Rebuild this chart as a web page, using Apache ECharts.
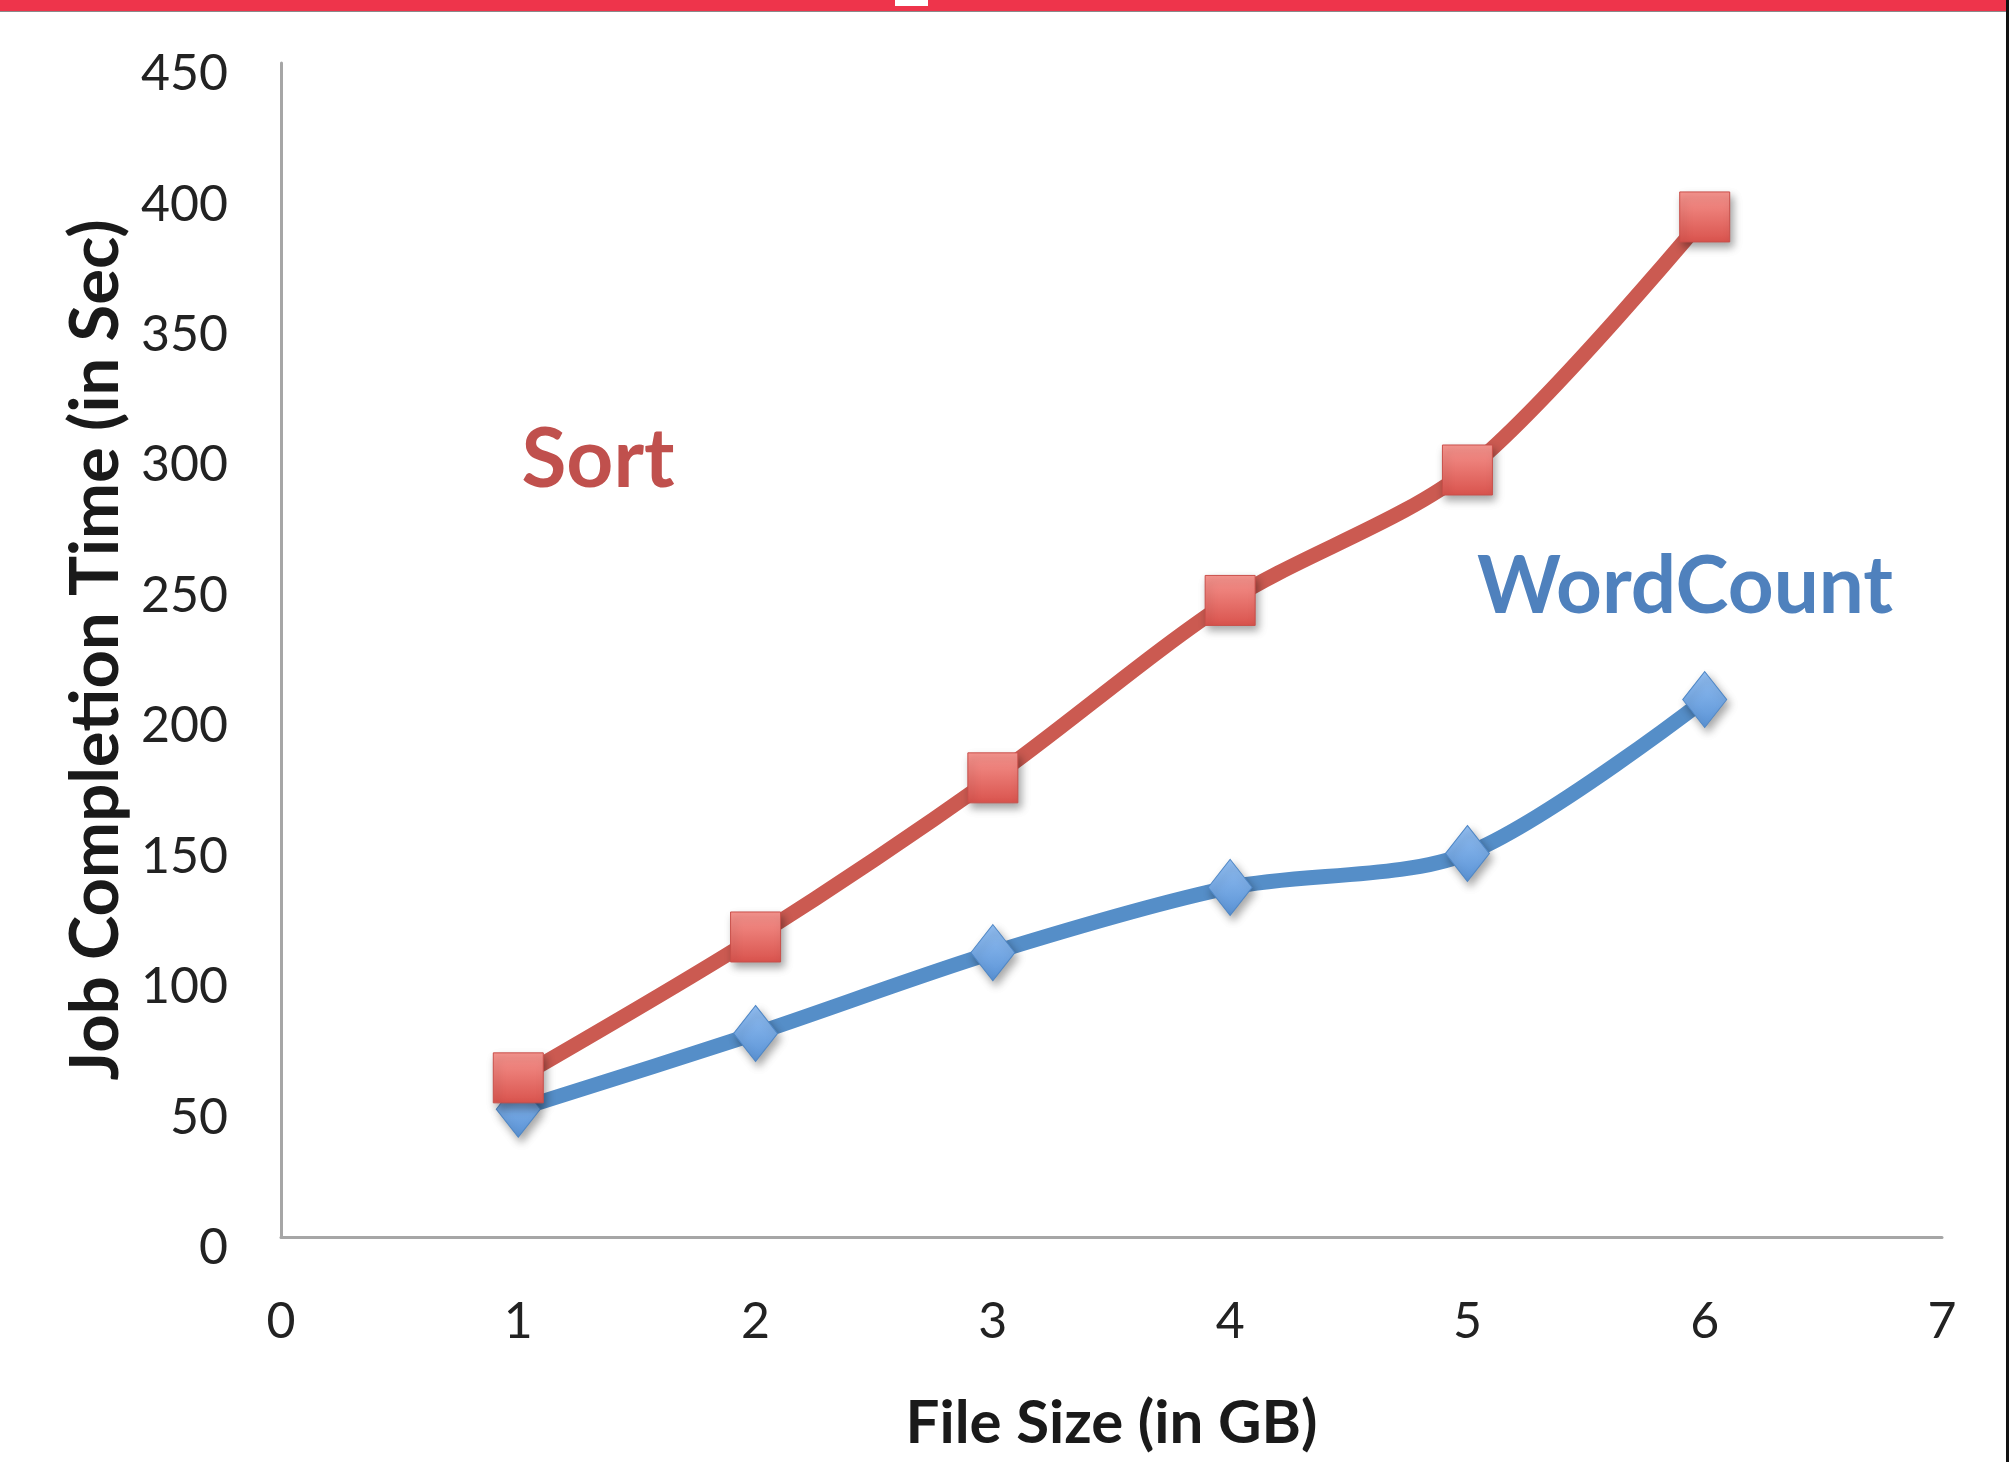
<!DOCTYPE html>
<html>
<head>
<meta charset="utf-8">
<script src="https://cdn.jsdelivr.net/npm/echarts@6/dist/echarts.min.js"></script>
<style>
  html, body { margin: 0; padding: 0; background: #fff; }
  #chart { width: 2012px; height: 1462px; }
</style>
</head>
<body>
<div id="chart"></div>
<script>
// file size in GB
const fileSizes = [1, 2, 3, 4, 5, 6];
// job completion time (sec)
const sortTimes = [61, 115, 176, 244, 294, 391];
const wordCountTimes = [49, 78, 109, 134, 147, 206];
const xTicks = [0, 1, 2, 3, 4, 5, 6, 7];
const yTicks = [0, 50, 100, 150, 200, 250, 300, 350, 400, 450];

const font = 'Lato, "Open Sans", "Noto Sans", sans-serif';

function pairs(xs, ys) {
  return xs.map((x, i) => [x, ys[i]]);
}

const chart = echarts.init(document.getElementById('chart'));

const markerShadow = {
  shadowBlur: 8,
  shadowColor: 'rgba(0, 0, 0, 0.35)',
  shadowOffsetX: 3,
  shadowOffsetY: 5,
};

const option = {
  backgroundColor: '#fff',
  animation: false,
  grid: {
    left: 281,
    right: 70,
    top: 63,
    bottom: 225,
  },
  xAxis: {
    type: 'value',
    min: xTicks[0],
    max: xTicks[xTicks.length - 1],
    interval: 1,
    name: 'File Size (in GB)',
    nameLocation: 'middle',
    nameGap: 157,
    nameTextStyle: {
      fontFamily: font,
      fontWeight: 'bold',
      fontSize: 60,
      color: '#1a1a1a',
    },
    axisLine: { lineStyle: { color: '#a6a6a6', width: 3 } },
    axisTick: { show: false },
    splitLine: { show: false },
    axisLabel: {
      fontFamily: font,
      fontSize: 50,
      color: '#222',
      margin: 60,
    },
  },
  yAxis: {
    type: 'value',
    min: yTicks[0],
    max: yTicks[yTicks.length - 1],
    interval: 50,
    name: 'Job Completion Time (in Sec)',
    nameLocation: 'middle',
    nameGap: 150,
    nameTextStyle: {
      fontFamily: font,
      fontWeight: 'bold',
      fontSize: 67,
      color: '#1a1a1a',
    },
    axisLine: { show: true, lineStyle: { color: '#a6a6a6', width: 3 } },
    axisTick: { show: false },
    splitLine: { show: false },
    axisLabel: {
      fontFamily: font,
      fontSize: 50,
      color: '#222',
      margin: 53,
      verticalAlign: 'top',
      lineHeight: 22,
    },
  },
  graphic: [
    // red strip across the top
    { type: 'rect', shape: { x: 0, y: 0, width: 2006, height: 11 }, style: { fill: '#ee344b' }, z: 100 },
    { type: 'rect', shape: { x: 0, y: 11, width: 2006, height: 1 }, style: { fill: '#8a8a8a' }, z: 100 },
    { type: 'rect', shape: { x: 895, y: 0, width: 33, height: 6 }, style: { fill: '#fff' }, z: 101 },
    // dark frame on the right
    { type: 'rect', shape: { x: 2006, y: 0, width: 3, height: 1462 }, style: { fill: '#111' }, z: 100 },
    {
      type: 'text',
      x: 598,
      y: 461,
      style: {
        text: 'Sort',
        fontFamily: font,
        fontWeight: 'bold',
        fontSize: 82,
        fill: '#c0504d',
        align: 'center',
        verticalAlign: 'middle',
      },
    },
    {
      type: 'text',
      x: 1685,
      y: 587,
      style: {
        text: 'WordCount',
        fontFamily: font,
        fontWeight: 'bold',
        fontSize: 80,
        fill: '#4f81bd',
        align: 'center',
        verticalAlign: 'middle',
      },
    },
  ],
  series: [
    {
      name: 'WordCount',
      type: 'line',
      data: pairs(fileSizes, wordCountTimes),
      smooth: 0.3,
      symbol: 'diamond',
      symbolSize: [44, 56],
      lineStyle: { color: '#558ec8', width: 15 },
      itemStyle: {
        color: new echarts.graphic.LinearGradient(0, 0, 0, 1, [
          { offset: 0, color: '#93bff2' },
          { offset: 1, color: '#5a93d6' },
        ]),
        borderColor: '#4f87c6',
        borderWidth: 1,
        ...markerShadow,
      },
      z: 2,
    },
    {
      name: 'Sort',
      type: 'line',
      data: pairs(fileSizes, sortTimes),
      smooth: 0.3,
      symbol: 'rect',
      symbolSize: 50,
      lineStyle: { color: '#cb5a51', width: 15 },
      itemStyle: {
        color: new echarts.graphic.LinearGradient(0, 0, 0, 1, [
          { offset: 0, color: '#f6958f' },
          { offset: 1, color: '#d9534d' },
        ]),
        borderColor: '#c94f4a',
        borderWidth: 1,
        ...markerShadow,
      },
      z: 3,
    },
  ],
};

chart.setOption(option);
</script>
</body>
</html>
